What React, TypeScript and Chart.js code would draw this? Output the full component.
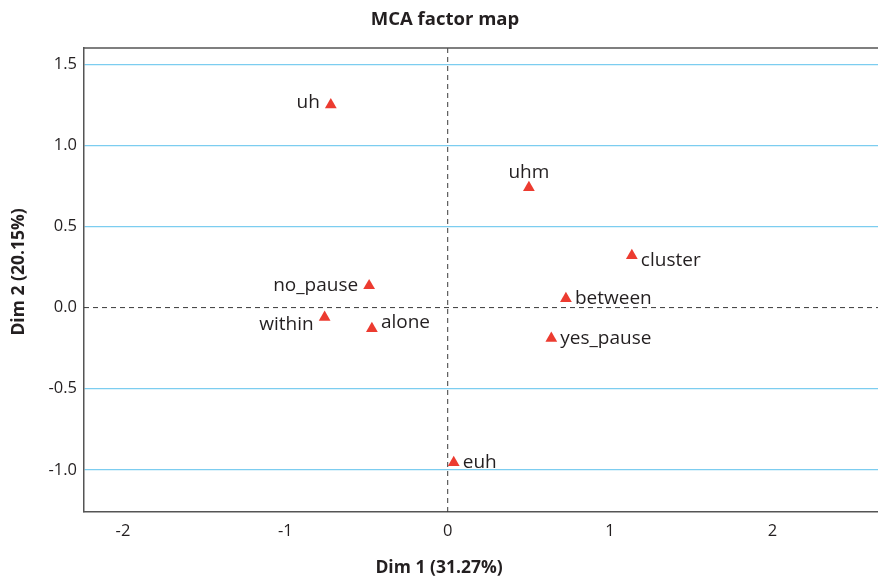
import React, { useEffect, useRef } from 'react';
import { Chart, registerables } from 'chart.js';

Chart.register(...registerables);

// ---- data ----
const categories = ['uh', 'uhm', 'cluster', 'between', 'no_pause', 'within', 'alone', 'yes_pause', 'euh'];
const dim1 = [-0.72, 0.5, 1.134, 0.728, -0.484, -0.758, -0.467, 0.638, 0.037];
const dim2 = [1.25, 0.74, 0.32, 0.055, 0.135, -0.06, -0.13, -0.19, -0.955];
const labelSide = ['left', 'top', 'right', 'right', 'left', 'left', 'right', 'right', 'right'];
const labelNudge = [-2, 0, 5, 0, 0, 7, -6, 0, 0];

const chartTitle = 'MCA factor map';
const xTitle = 'Dim 1 (31.27%)';
const yTitle = 'Dim 2 (20.15%)';

const FONT = "'Open Sans', 'Noto Sans', sans-serif";
const TEXT = '#231f20';
const RED = '#ec3b30';
const GRID = '#7ccdf0';
const AXIS = '#555555';

const decorPlugin = {
  id: 'decor',
  beforeDatasetsDraw(chart: any) {
    const { ctx, chartArea, scales } = chart;
    const x0 = scales.x.getPixelForValue(0);
    const y0 = scales.y.getPixelForValue(0);
    ctx.save();
    ctx.strokeStyle = '#3a3a3a';
    ctx.lineWidth = 1;
    ctx.setLineDash([5, 4]);
    ctx.beginPath();
    ctx.moveTo(x0, chartArea.top);
    ctx.lineTo(x0, chartArea.bottom);
    ctx.moveTo(chartArea.left, y0);
    ctx.lineTo(chartArea.right, y0);
    ctx.stroke();
    ctx.setLineDash([]);
    ctx.strokeStyle = AXIS;
    ctx.lineWidth = 1.5;
    ctx.beginPath();
    ctx.moveTo(chartArea.left, chartArea.top);
    ctx.lineTo(chartArea.right, chartArea.top);
    ctx.stroke();
    ctx.restore();
  },
  afterDraw(chart: any) {
    const { ctx, width, height } = chart;
    ctx.save();
    ctx.fillStyle = TEXT;
    // point labels
    ctx.font = `19px ${FONT}`;
    ctx.textBaseline = 'middle';
    const meta = chart.getDatasetMeta(0);
    meta.data.forEach((pt: any, i: number) => {
      const side = labelSide[i];
      const dy = labelNudge[i];
      if (side === 'left') {
        ctx.textAlign = 'right';
        ctx.fillText(categories[i], pt.x - 11, pt.y + dy);
      } else if (side === 'right') {
        ctx.textAlign = 'left';
        ctx.fillText(categories[i], pt.x + 9, pt.y + dy);
      } else {
        ctx.textAlign = 'center';
        ctx.fillText(categories[i], pt.x, pt.y - 15 + dy);
      }
    });
    // titles
    ctx.font = `bold 18.5px ${FONT}`;
    ctx.textAlign = 'center';
    ctx.fillText(chartTitle, width / 2 + 6, 20);
    ctx.font = `bold 17.5px ${FONT}`;
    ctx.fillText(xTitle, width / 2, height - 11);
    ctx.translate(19, 272);
    ctx.rotate(-Math.PI / 2);
    ctx.fillText(yTitle, 0, 0);
    ctx.restore();
  },
};

export default function App() {
  const ref = useRef<HTMLCanvasElement>(null);
  useEffect(() => {
    if (!ref.current) return;
    const chart = new Chart(ref.current, {
      type: 'scatter',
      data: {
        datasets: [
          {
            data: dim1.map((x, i) => ({ x, y: dim2[i] })),
            pointStyle: 'triangle',
            radius: 6.8,
            hoverRadius: 6.8,
            backgroundColor: RED,
            borderColor: RED,
            borderWidth: 0,
          },
        ],
      },
      options: {
        animation: false,
        responsive: false,
        layout: { autoPadding: false, padding: { top: 48, left: 0, right: 0, bottom: 0 } },
        plugins: {
          legend: { display: false },
          title: { display: false },
          tooltip: { enabled: false },
        },
        scales: {
          x: {
            type: 'linear',
            min: -2.24,
            max: 2.65,
            afterFit(scale: any) {
              scale.height = 67;
            },
            ticks: {
              stepSize: 1,
              includeBounds: false,
              padding: 9,
              color: TEXT,
              font: { family: FONT, size: 16.5 },
              callback: (v: any) => String(v),
            },
            grid: { display: false, drawTicks: false },
            border: { display: true, color: AXIS, width: 1.5 },
          },
          y: {
            type: 'linear',
            min: -1.26,
            max: 1.6,
            afterFit(scale: any) {
              scale.width = 84;
            },
            ticks: {
              stepSize: 0.5,
              includeBounds: false,
              padding: 7,
              color: TEXT,
              font: { family: FONT, size: 16.5 },
              callback: (v: any) => Number(v).toFixed(1),
            },
            grid: {
              drawTicks: false,
              lineWidth: 1.3,
              color: (c: any) => (Math.abs(c.tick?.value ?? 1) < 1e-9 ? 'rgba(0,0,0,0)' : GRID),
            },
            border: { display: true, color: AXIS, width: 1.5 },
          },
        },
      },
      plugins: [decorPlugin],
    });
    return () => chart.destroy();
  }, []);
  return (
    <div style={{ position: 'fixed', left: 0, top: 0, width: 878, height: 579, background: '#fff' }}>
      <canvas ref={ref} width={878} height={579} />
    </div>
  );
}
